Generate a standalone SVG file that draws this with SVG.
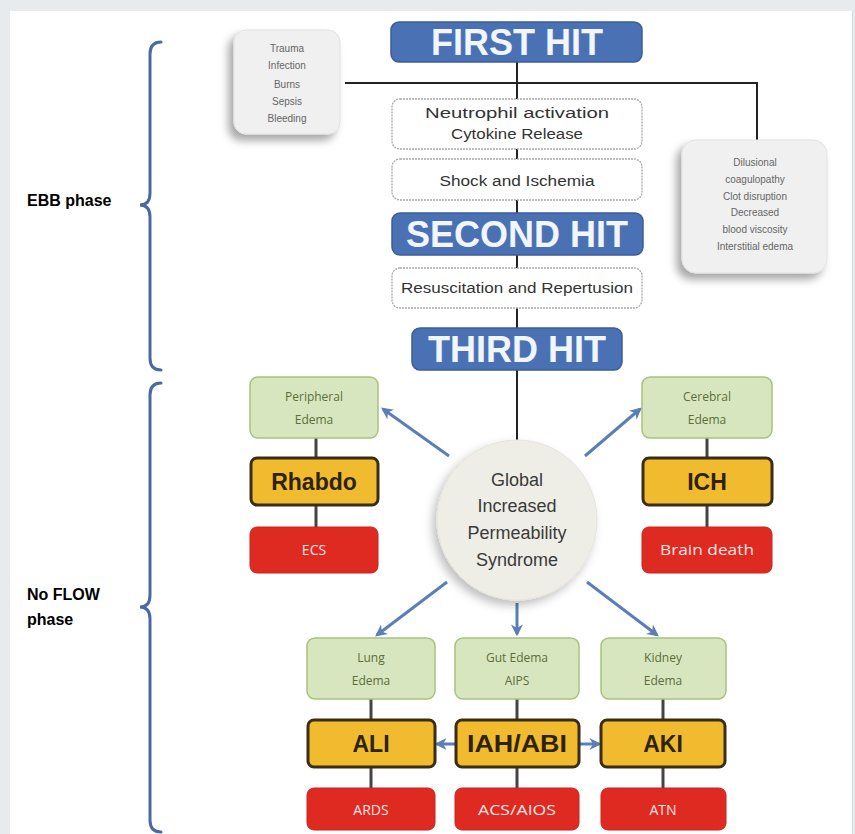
<svg xmlns="http://www.w3.org/2000/svg" width="855" height="834" viewBox="0 0 855 834">
<style>
.hit{fill:#4a71b4;stroke:#3b5d98;stroke-width:1.5}
.hitt{font-family:"Liberation Sans",Arial,sans-serif;font-weight:bold;font-size:36px;fill:#f1f5fc;text-anchor:middle}
.wb{fill:#fff;stroke:#a8a8a8;stroke-width:1.3;stroke-dasharray:2 1}
.wt{font-family:"Liberation Sans",Arial,sans-serif;font-size:14px;fill:#333;text-anchor:middle}
.gb{fill:#f0f0f0;stroke:#e2e2e2;stroke-width:1}
.gt{font-family:"Liberation Sans",Arial,sans-serif;font-size:10px;fill:#666;text-anchor:middle}
.grn{fill:#d8e6bf;stroke:#a7c27c;stroke-width:1.5}
.grt{font-family:"Open Sans","Liberation Sans",sans-serif;font-size:12px;fill:#5a6e3a;text-anchor:middle}
.yel{fill:#f1bb30;stroke:#3b2d12;stroke-width:3}
.yt{font-family:"Liberation Sans",Arial,sans-serif;font-weight:bold;font-size:23px;fill:#2e230a;text-anchor:middle}
.red{fill:#df2a22;stroke:#c9241d;stroke-width:1}
.rt{font-family:"Open Sans","Liberation Sans",sans-serif;font-size:14px;fill:#fbe6e4;text-anchor:middle}
.ct{font-family:"Liberation Sans",Arial,sans-serif;font-size:18px;fill:#3a3a3a;text-anchor:middle}
.lab{font-family:"Liberation Sans",Arial,sans-serif;font-weight:bold;font-size:16px;fill:#000}
.ln{stroke:#222;stroke-width:2;fill:none}
.sl{stroke:#444;stroke-width:3;fill:none}
.ar{stroke:#5a7fb8;stroke-width:3;fill:none;marker-end:url(#ah)}
.br{stroke:#4a6aa5;stroke-width:3;fill:none;stroke-linecap:round}
</style>
<defs>
<marker id="ah" viewBox="0 0 10 10" refX="8" refY="5" markerWidth="4" markerHeight="4" orient="auto" markerUnits="strokeWidth">
<path d="M0,0 L10,5 L0,10 L3,5 Z" fill="#5a7fb8"/>
</marker>
<filter id="sh" x="-30%" y="-30%" width="160%" height="160%">
<feDropShadow dx="-5" dy="6" stdDeviation="4" flood-color="#000" flood-opacity="0.35"/>
</filter>
<filter id="csh" x="-30%" y="-30%" width="160%" height="160%">
<feDropShadow dx="-4" dy="5" stdDeviation="5" flood-color="#000" flood-opacity="0.25"/>
</filter>
</defs>
<rect x="0" y="0" width="855" height="834" fill="#e7ebee"/>
<rect x="10" y="11" width="842" height="823" fill="#fff"/>
<line x1="852.5" y1="11" x2="852.5" y2="834" stroke="#d5d9dc" stroke-width="1"/>

<g id="connectors">
<line class="ln" x1="517" y1="62" x2="517" y2="99"/>
<polyline class="ln" points="345,83 757,83 757,140"/>
<line class="ln" x1="517" y1="149" x2="517" y2="159"/>
<line class="ln" x1="517" y1="200" x2="517" y2="213"/>
<line class="ln" x1="517" y1="255" x2="517" y2="268"/>
<line class="ln" x1="517" y1="308" x2="517" y2="328"/>
<line class="ln" x1="517" y1="370" x2="517" y2="440"/>
<line class="sl" x1="316" y1="438" x2="316" y2="458"/>
<line class="sl" x1="316" y1="505" x2="316" y2="527"/>
<line class="sl" x1="707" y1="438" x2="707" y2="458"/>
<line class="sl" x1="707" y1="505" x2="707" y2="527"/>
<line class="sl" x1="371" y1="699" x2="371" y2="720"/>
<line class="sl" x1="371" y1="767" x2="371" y2="788"/>
<line class="sl" x1="517" y1="699" x2="517" y2="720"/>
<line class="sl" x1="517" y1="767" x2="517" y2="788"/>
<line class="sl" x1="663" y1="699" x2="663" y2="720"/>
<line class="sl" x1="663" y1="767" x2="663" y2="788"/>
<line class="ar" x1="449" y1="456" x2="383" y2="409"/>
<line class="ar" x1="585" y1="456" x2="640" y2="409"/>
<line class="ar" x1="447" y1="582" x2="377" y2="635"/>
<line class="ar" x1="517" y1="603" x2="517" y2="634"/>
<line class="ar" x1="587" y1="582" x2="657" y2="635"/>
<line class="ar" x1="455" y1="744" x2="437" y2="744"/>
<line class="ar" x1="579" y1="744" x2="599" y2="744"/>
</g>

<g id="braces">
<path class="br" d="M161,42 Q150,42 150,54 L150,193 Q150,205 140,205 Q150,205 150,217 L150,358 Q150,370 161,370"/>
<path class="br" d="M161,383 Q150,383 150,395 L150,595 Q150,607 140,607 Q150,607 150,619 L150,820 Q150,832 161,832"/>
<text class="lab" x="27" y="206">EBB phase</text>
<text class="lab" x="27" y="600">No FLOW</text>
<text class="lab" x="27" y="625">phase</text>
</g>

<g id="first-hit">
<rect class="hit" x="391" y="22" width="251" height="40" rx="8"/>
<text class="hitt" x="517" y="55">FIRST HIT</text>
</g>
<g id="causes">
<rect class="gb" x="234" y="30" width="106" height="104" rx="12" filter="url(#sh)"/>
<text class="gt" x="287" y="52">Trauma</text>
<text class="gt" x="287" y="69">Infection</text>
<text class="gt" x="287" y="88">Burns</text>
<text class="gt" x="287" y="105">Sepsis</text>
<text class="gt" x="287" y="122">Bleeding</text>
</g>
<g id="effects">
<rect class="gb" x="682" y="140" width="145" height="133" rx="14" filter="url(#sh)"/>
<text class="gt" x="755" y="166">Dilusional</text>
<text class="gt" x="755" y="183">coagulopathy</text>
<text class="gt" x="755" y="200">Clot disruption</text>
<text class="gt" x="755" y="216">Decreased</text>
<text class="gt" x="755" y="233">blood viscosity</text>
<text class="gt" x="755" y="250">Interstitial edema</text>
</g>
<g id="neutrophil">
<rect class="wb" x="392" y="99" width="250" height="50" rx="8"/>
<text class="wt" x="517" y="118" textLength="184" lengthAdjust="spacingAndGlyphs">Neutrophil activation</text>
<text class="wt" x="517" y="139" textLength="132" lengthAdjust="spacingAndGlyphs">Cytokine Release</text>
</g>
<g id="shock">
<rect class="wb" x="392" y="159" width="250" height="41" rx="8"/>
<text class="wt" x="517" y="186" textLength="155" lengthAdjust="spacingAndGlyphs">Shock and Ischemia</text>
</g>
<g id="second-hit">
<rect class="hit" x="392" y="213" width="251" height="42" rx="8"/>
<text class="hitt" x="517" y="247">SECOND HIT</text>
</g>
<g id="resuscitation">
<rect class="wb" x="392" y="268" width="250" height="40" rx="8"/>
<text class="wt" x="517" y="293" textLength="232" lengthAdjust="spacingAndGlyphs">Resuscitation and Repertusion</text>
</g>
<g id="third-hit">
<rect class="hit" x="412" y="328" width="210" height="42" rx="8"/>
<text class="hitt" x="517" y="362">THIRD HIT</text>
</g>
<g id="gips">
<circle cx="517" cy="520" r="80" fill="#eeeee6" stroke="#e4e4dc" stroke-width="1" filter="url(#csh)"/>
<text class="ct" x="517" y="486">Global</text>
<text class="ct" x="517" y="512">Increased</text>
<text class="ct" x="517" y="539">Permeability</text>
<text class="ct" x="517" y="566">Syndrome</text>
</g>

<g id="peripheral-edema">
<rect class="grn" x="250" y="377" width="128" height="61" rx="8"/>
<text class="grt" x="314" y="401">Peripheral</text>
<text class="grt" x="314" y="424">Edema</text>
</g>
<g id="rhabdo">
<rect class="yel" x="251" y="458" width="127" height="47" rx="6"/>
<text class="yt" x="314" y="490">Rhabdo</text>
</g>
<g id="ecs">
<rect class="red" x="250" y="527" width="128" height="46" rx="7"/>
<text class="rt" x="314" y="555">ECS</text>
</g>

<g id="cerebral-edema">
<rect class="grn" x="642" y="377" width="130" height="61" rx="8"/>
<text class="grt" x="707" y="401">Cerebral</text>
<text class="grt" x="707" y="424">Edema</text>
</g>
<g id="ich">
<rect class="yel" x="643" y="458" width="129" height="47" rx="6"/>
<text class="yt" x="707" y="490">ICH</text>
</g>
<g id="brain-death">
<rect class="red" x="642" y="527" width="130" height="46" rx="7"/>
<text class="rt" x="707" y="555" textLength="94" lengthAdjust="spacingAndGlyphs">Brain death</text>
</g>

<g id="lung-edema">
<rect class="grn" x="307" y="638" width="128" height="61" rx="8"/>
<text class="grt" x="371" y="662">Lung</text>
<text class="grt" x="371" y="685">Edema</text>
</g>
<g id="ali">
<rect class="yel" x="308" y="720" width="127" height="47" rx="6"/>
<text class="yt" x="371" y="752">ALI</text>
</g>
<g id="ards">
<rect class="red" x="307" y="788" width="128" height="42" rx="7"/>
<text class="rt" x="371" y="815">ARDS</text>
</g>

<g id="gut-edema">
<rect class="grn" x="455" y="638" width="124" height="61" rx="8"/>
<text class="grt" x="517" y="662">Gut Edema</text>
<text class="grt" x="517" y="685">AIPS</text>
</g>
<g id="iah-abi">
<rect class="yel" x="456" y="720" width="123" height="47" rx="6"/>
<text class="yt" x="517" y="752" textLength="100" lengthAdjust="spacingAndGlyphs">IAH/ABI</text>
</g>
<g id="acs-aios">
<rect class="red" x="455" y="788" width="124" height="42" rx="7"/>
<text class="rt" x="517" y="815" textLength="78" lengthAdjust="spacingAndGlyphs">ACS/AIOS</text>
</g>

<g id="kidney-edema">
<rect class="grn" x="601" y="638" width="125" height="61" rx="8"/>
<text class="grt" x="663" y="662">Kidney</text>
<text class="grt" x="663" y="685">Edema</text>
</g>
<g id="aki">
<rect class="yel" x="601" y="720" width="124" height="47" rx="6"/>
<text class="yt" x="663" y="752">AKI</text>
</g>
<g id="atn">
<rect class="red" x="601" y="788" width="125" height="42" rx="7"/>
<text class="rt" x="663" y="815">ATN</text>
</g>
</svg>
